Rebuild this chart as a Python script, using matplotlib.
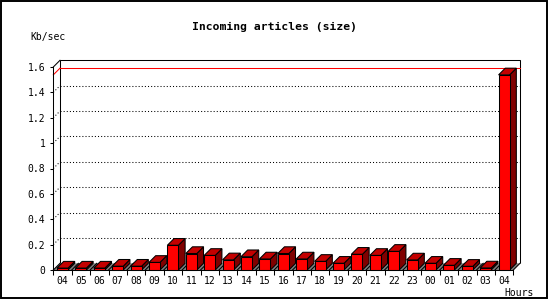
import numpy as np
import matplotlib
matplotlib.use("Agg")
from matplotlib import pyplot as plt
from matplotlib.patches import Polygon, Rectangle

# data
hours = ["04", "05", "06", "07", "08", "09", "10", "11", "12", "13", "14", "15", "16",
         "17", "18", "19", "20", "21", "22", "23", "00", "01", "02", "03", "04"]
kb_sec = [0.015, 0.015, 0.015, 0.03, 0.03, 0.06, 0.195, 0.13, 0.115, 0.08, 0.105, 0.087, 0.13,
          0.087, 0.068, 0.053, 0.124, 0.115, 0.147, 0.079, 0.053, 0.037, 0.029, 0.016, 1.538]
yticks = [0, 0.2, 0.4, 0.6, 0.8, 1, 1.2, 1.4, 1.6]
ytick_labels = ["0", "0.2", "0.4", "0.6", "0.8", "1", "1.2", "1.4", "1.6"]

title = "Incoming articles (size)"
ylabel = "Kb/sec"
xlabel = "Hours"

plt.rcParams["font.family"] = ["DejaVu Sans Mono"]

fig = plt.figure(figsize=(5.5, 3.0), dpi=100)
ax = fig.add_axes([53.3 / 550, 30 / 300, 460 / 550, 203 / 300])
n = len(hours)
ymax = yticks[-1]
ax.set_xlim(0, n)
ax.set_ylim(0, ymax)

# depth of the 3d effect, ~6.7 px in each direction
dx = 6.7 / 18.4
dy = 6.7 / 126.9

lw = 0.75

# back wall
ax.add_patch(Polygon([(dx, dy), (dx, ymax + dy), (n + dx, ymax + dy), (n + dx, dy)],
                     closed=False, facecolor="white", edgecolor="black", lw=lw,
                     zorder=1, clip_on=False))
ax.plot([0, dx], [ymax, ymax + dy], color="black", lw=lw, clip_on=False, zorder=1)

# dotted grid
for t in yticks[1:-1]:
    ax.plot([dx, n + dx], [t + dy, t + dy], color="black", lw=lw,
            linestyle=(0, (1, 2)), clip_on=False, zorder=2)
    ax.plot([0, dx], [t, t + dy], color="black", lw=lw,
            linestyle=(0, (1, 2)), clip_on=False, zorder=2)

# max line
vmax = max(kb_sec)
ax.plot([dx, n + dx], [vmax + dy, vmax + dy], color="red", lw=lw, clip_on=False, zorder=2)
ax.plot([0, dx], [vmax, vmax + dy], color="red", lw=lw, clip_on=False, zorder=2)

# floor
ax.add_patch(Polygon([(0, 0), (n, 0), (n + dx, dy), (dx, dy)], facecolor="#808080",
                     edgecolor="none", zorder=3, clip_on=False))
for i in range(n + 1):
    ax.plot([i, i + dx], [0, dy], color="black", lw=lw, clip_on=False, zorder=3)

# bars
x0 = 0.2
w = 0.6
for i, v in enumerate(kb_sec):
    left = i + x0
    right = left + w
    ax.add_patch(Polygon([(right, 0), (right + dx, dy), (right + dx, v + dy), (right, v)],
                         facecolor="#800000", edgecolor="black", lw=lw, zorder=4 + i,
                         clip_on=False))
    ax.add_patch(Polygon([(left, v), (right, v), (right + dx, v + dy), (left + dx, v + dy)],
                         facecolor="#c40000", edgecolor="black", lw=lw, zorder=4 + i,
                         clip_on=False))
    ax.add_patch(Rectangle((left, 0), w, v, facecolor="#ff0000", edgecolor="black",
                           lw=lw, zorder=4 + i, clip_on=False))

# axes
for s in ["top", "right"]:
    ax.spines[s].set_visible(False)
for s in ["left", "bottom"]:
    ax.spines[s].set_linewidth(lw)
    ax.spines[s].set_zorder(50)
ax.set_facecolor("none")
ax.set_yticks(yticks)
ax.set_yticklabels(ytick_labels)
ax.tick_params(axis="y", direction="out", length=2.3, width=lw, pad=3.5, labelsize=7)
ax.set_xticks(np.arange(n + 1))
ax.set_xticklabels([])
ax.tick_params(axis="x", which="major", direction="out", length=3.6, width=lw)
ax.set_xticks(np.arange(n) + 0.5, minor=True)
ax.set_xticklabels(hours, minor=True)
ax.tick_params(axis="x", which="minor", length=0, pad=4, labelsize=7)

fig.text(275 / 550, 1 - 27 / 300, title, ha="center", va="center", fontsize=8.2,
         fontweight="bold")
fig.text(30 / 550, 1 - 37 / 300, ylabel, ha="left", va="center", fontsize=7)
fig.text(504 / 550, 1 - 293 / 300, xlabel, ha="left", va="center", fontsize=7)

# outer frame
fig.patches.append(Rectangle((0.5 / 550, 2.5 / 300), 546.5 / 550, 297 / 300,
                             transform=fig.transFigure, fill=False,
                             edgecolor="black", lw=1.4))

fig.savefig("out.png", dpi=100)
